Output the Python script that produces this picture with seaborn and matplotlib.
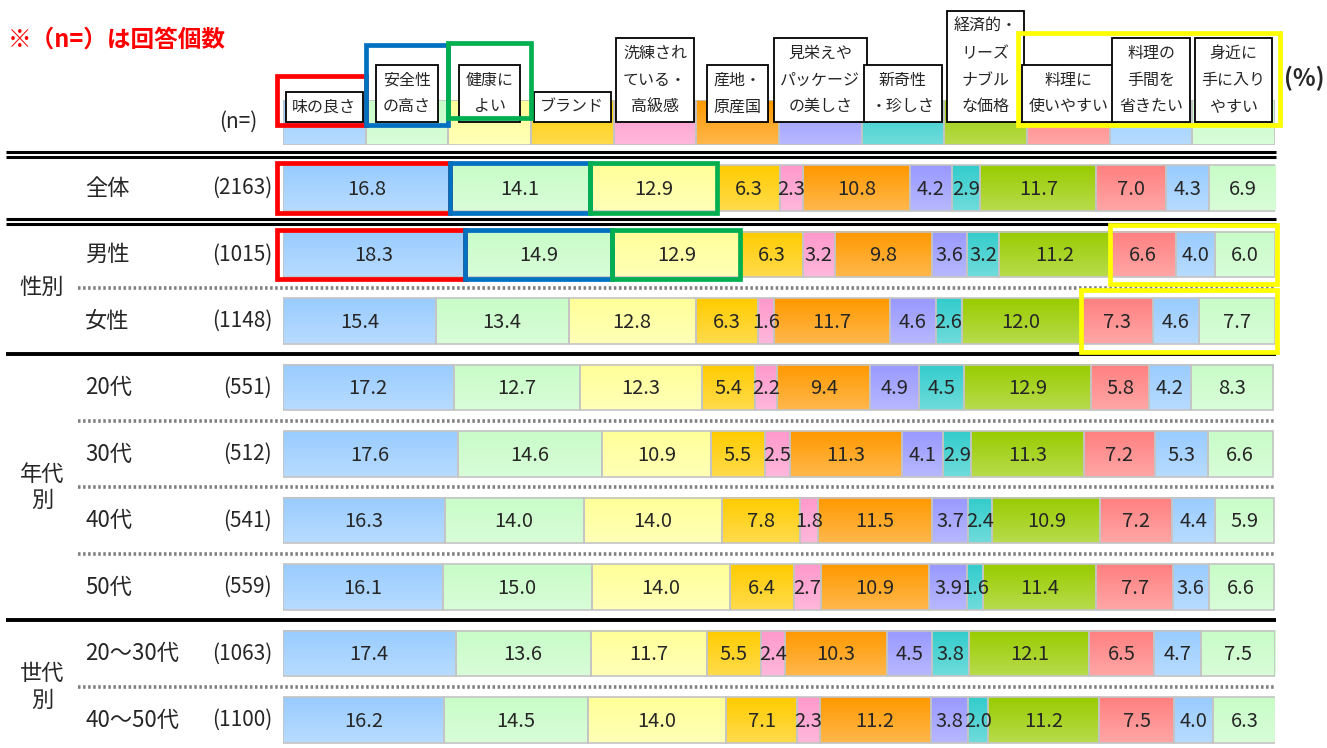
import matplotlib
matplotlib.use("Agg")
import matplotlib.pyplot as plt
import matplotlib.colors as mcolors
import matplotlib.transforms as mtransforms
from matplotlib.patches import Rectangle
import numpy as np
import pandas as pd
import seaborn as sns

# --- data -------------------------------------------------------------
groups = ["全体", "男性", "女性", "20代", "30代", "40代", "50代", "20～30代", "40～50代"]
n_counts = [2163, 1015, 1148, 551, 512, 541, 559, 1063, 1100]
categories = [
    "味の良さ", "安全性\nの高さ", "健康に\nよい", "ブランド", "洗練され\nている・\n高級感",
    "産地・\n原産国", "見栄えや\nパッケージ\nの美しさ", "新奇性\n・珍しさ",
    "経済的・\nリーズ\nナブル\nな価格", "料理に\n使いやすい", "料理の\n手間を\n省きたい",
    "身近に\n手に入り\nやすい",
]
zentai = [16.8, 14.1, 12.9, 6.3, 2.3, 10.8, 4.2, 2.9, 11.7, 7.0, 4.3, 6.9]
dansei = [18.3, 14.9, 12.9, 6.3, 3.2, 9.8, 3.6, 3.2, 11.2, 6.6, 4.0, 6.0]
josei = [15.4, 13.4, 12.8, 6.3, 1.6, 11.7, 4.6, 2.6, 12.0, 7.3, 4.6, 7.7]
age20 = [17.2, 12.7, 12.3, 5.4, 2.2, 9.4, 4.9, 4.5, 12.9, 5.8, 4.2, 8.3]
age30 = [17.6, 14.6, 10.9, 5.5, 2.5, 11.3, 4.1, 2.9, 11.3, 7.2, 5.3, 6.6]
age40 = [16.3, 14.0, 14.0, 7.8, 1.8, 11.5, 3.7, 2.4, 10.9, 7.2, 4.4, 5.9]
age50 = [16.1, 15.0, 14.0, 6.4, 2.7, 10.9, 3.9, 1.6, 11.4, 7.7, 3.6, 6.6]
gen2030 = [17.4, 13.6, 11.7, 5.5, 2.4, 10.3, 4.5, 3.8, 12.1, 6.5, 4.7, 7.5]
gen4050 = [16.2, 14.5, 14.0, 7.1, 2.3, 11.2, 3.8, 2.0, 11.2, 7.5, 4.0, 6.3]

colors = ["#99ccff", "#c8fcc8", "#ffff99", "#ffcc00", "#ff99cc", "#ff9900",
          "#9999ff", "#33cccc", "#99cc00", "#ff8080", "#99ccff", "#c8fcc8"]

df = pd.DataFrame([zentai, dansei, josei, age20, age30, age40, age50, gen2030, gen4050],
                  index=groups, columns=categories)
lefts = df.cumsum(axis=1) - df

# --- figure -----------------------------------------------------------
sns.set_style("white")
plt.rcParams["font.family"] = ["Noto Sans CJK JP", "DejaVu Sans"]

W, H = 1327, 748
fig = plt.figure(figsize=(W / 100, H / 100), dpi=100)
ax = fig.add_axes([283 / W, 0, 992 / W, 1 - 154.75 / H])
axh = fig.add_axes([283 / W, 1 - 145 / H, 992 / W, 45 / H])

edge = "#c4c4c4"
for k, cat in enumerate(categories):
    sns.barplot(x=df[cat].values, y=groups, order=groups, orient="y",
                left=lefts[cat].values, color=colors[k], saturation=1,
                width=0.68, edgecolor=edge, linewidth=1.2, errorbar=None, ax=ax)

seg = 100 / len(categories)
axh.barh(0.5, [seg] * len(categories), left=np.arange(len(categories)) * seg,
         height=1, color=colors, edgecolor=edge, linewidth=1.2)

ax.set_xlim(0, 100)
ax.set_ylim(8.42, -0.5)
axh.set_xlim(0, 100)
axh.set_ylim(0, 1)


def paint_gradient(a, patch, fade=0.3):
    # darker at the top, lighter at the bottom, like the original bars
    x, y = patch.get_x(), patch.get_y()
    w, h = patch.get_width(), patch.get_height()
    c = np.array(mcolors.to_rgb(patch.get_facecolor()))
    t = np.linspace(0, 1, 32)[:, None, None]
    img = np.repeat(c * (1 - fade * t) + fade * t, 2, axis=1)
    ext = (x, x + w, y + h, y) if a.yaxis_inverted() else (x, x + w, y, y + h)
    a.imshow(img, extent=ext, origin="upper", aspect="auto",
             interpolation="bilinear", zorder=0.8)
    patch.set_facecolor("none")


for a in (ax, axh):
    for p in list(a.patches):
        paint_gradient(a, p)

ax.set_xlim(0, 100)
ax.set_ylim(8.42, -0.5)
axh.set_xlim(0, 100)
axh.set_ylim(0, 1)
ax.set_axis_off()
axh.set_axis_off()

# value labels
for i, g in enumerate(groups):
    for cat in categories:
        v = df.loc[g, cat]
        ax.text(lefts.loc[g, cat] + v / 2, i + 0.02, f"{v:.1f}", ha="center",
                va="center", fontsize=14.5, zorder=6)

# left-hand labels
trans = mtransforms.blended_transform_factory(fig.transFigure, ax.transData)
for i, (g, n) in enumerate(zip(groups, n_counts)):
    ax.text(85 / W, i, g, transform=trans, ha="left", va="center", fontsize=16)
    ax.text(272 / W, i, f"({n})", transform=trans, ha="right", va="center", fontsize=15)
for y, lab in [(1.5, "性別"), (4.5, "年代\n別"), (7.5, "世代\n別")]:
    ax.text(42 / W, y, lab, transform=trans, ha="center", va="center",
            fontsize=16, linespacing=1.2)

# separators
for y in (-0.5, 0.5):
    for d in (-0.035, 0.035):
        ax.hlines(y + d, 6 / W, 1276 / W, transform=trans, colors="black",
                  lw=2.2, clip_on=False)
for y in (2.5, 6.5):
    ax.hlines(y, 6 / W, 1276 / W, transform=trans, colors="black", lw=2.8, clip_on=False)
for y in (1.5, 3.5, 4.5, 5.5, 7.5):
    ax.hlines(y, 78 / W, 1276 / W, transform=trans, colors="#808080", lw=2.6,
              linestyles=(0, (0.7, 0.7)), clip_on=False)

# highlight frames on bars
frames = [(0, 0, 0, "#ff0000", 0.37), (0, 1, 1, "#0070c0", 0.37), (0, 2, 2, "#00b050", 0.37),
          (1, 0, 0, "#ff0000", 0.37), (1, 1, 1, "#0070c0", 0.37), (1, 2, 2, "#00b050", 0.37),
          (1, 9, 11, "#ffff00", 0.44), (2, 9, 11, "#ffff00", 0.46)]
for row, c0, c1, col, hh in frames:
    x0 = lefts.iloc[row, c0]
    x1 = lefts.iloc[row, c1] + df.iloc[row, c1]
    if c0 == 0:
        x0 -= 0.6
    if c1 == len(categories) - 1:
        x1 += 0.2
    ax.add_patch(Rectangle((x0, row - hh), x1 - x0, 2 * hh, fill=False, ec=col,
                           lw=3.4, clip_on=False, zorder=7))

# header labels
for k, cat in enumerate(categories):
    axh.text(k * seg + seg / 2, 0.66, cat, ha="center", va="bottom", fontsize=11.5,
             linespacing=1.75, zorder=8, clip_on=False,
             bbox=dict(boxstyle="square,pad=0.42", fc="white", ec="black", lw=1.3))

htrans = mtransforms.blended_transform_factory(axh.transData, axh.transAxes)
for c0, c1, y0, y1, col in [(0, 0, 0.444, 1.533, "#ff0000"),
                            (1, 1, 0.444, 2.222, "#0070c0"),
                            (2, 2, 0.6, 2.267, "#00b050"),
                            (9, 11, 0.444, 2.489, "#ffff00")]:
    x0 = c0 * seg - (0.6 if c0 == 0 else 0.9 if c0 == 9 else 0)
    x1 = (c1 + 1) * seg + (0.5 if c1 == 11 else 0)
    axh.add_patch(Rectangle((x0, y0), x1 - x0, y1 - y0, transform=htrans, fill=False,
                            ec=col, lw=3.4, clip_on=False, zorder=9))

fig.text(8 / W, 1 - 40 / H, "※（n=）は回答個数", color="#ff0000", fontsize=17,
         weight="bold", va="center", ha="left")
fig.text(238 / W, 1 - 122 / H, "(n=)", ha="center", va="center", fontsize=15)
fig.text(1304 / W, 1 - 78 / H, "(%)", ha="center", va="center", fontsize=17, weight="bold")

fig.savefig("out.png", dpi=100)
